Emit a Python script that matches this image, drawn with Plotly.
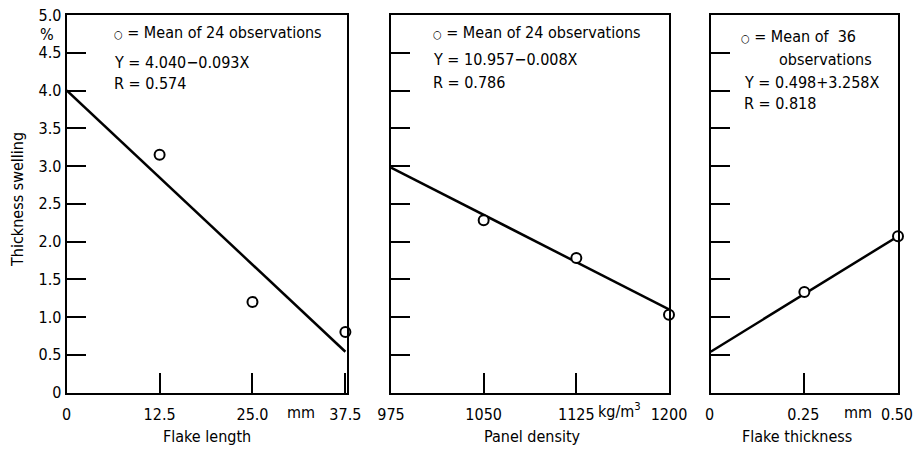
import plotly.graph_objects as go

# ---- data ----
len_x = [12.5, 25.0, 37.5]
len_y = [3.15, 1.20, 0.80]
len_line_x = [0, 37.5]
len_line_y = [4.0, 0.54]

dens_x = [1050, 1125, 1200]
dens_y = [2.28, 1.78, 1.03]
dens_line_x = [975, 1200]
dens_line_y = [2.98, 1.10]

thk_x = [0.25, 0.50]
thk_y = [1.33, 2.07]
thk_line_x = [0, 0.50]
thk_line_y = [0.54, 2.07]

y_ticks = [0, 0.5, 1.0, 1.5, 2.0, 2.5, 3.0, 3.5, 4.0, 4.5, 5.0]
y_tick_text = ["0", "0.5", "1.0", "1.5", "2.0", "2.5", "3.0", "3.5", "4.0", "4.5", "5.0"]
len_ticks = [0, 12.5, 25.0, 37.5]
len_tick_text = ["0", "12.5", "25.0", "37.5"]
dens_ticks = [975, 1050, 1125, 1200]
dens_tick_text = ["975", "1050", "1125", "1200"]
thk_ticks = [0, 0.25, 0.50]
thk_tick_text = ["0", "0.25", "0.50"]

W, H = 913, 450
FONT = "DejaVu Sans Condensed"

def px(x):
    return x / W

def py(y):
    return 1 - y / H

def fnt(size=16):
    return dict(family=FONT, size=size, color="black")

fig = go.Figure()

line_style = dict(color="black", width=2.5)
marker_style = dict(symbol="circle", size=10, color="white", line=dict(color="black", width=2))

panels = [
    ("x", "y", len_x, len_y, len_line_x, len_line_y),
    ("x2", "y2", dens_x, dens_y, dens_line_x, dens_line_y),
    ("x3", "y3", thk_x, thk_y, thk_line_x, thk_line_y),
]
for xa, ya, mx, my, lx, ly in panels:
    fig.add_trace(go.Scatter(x=lx, y=ly, mode="lines", line=line_style,
                             xaxis=xa, yaxis=ya, showlegend=False, hoverinfo="skip", cliponaxis=False))
    fig.add_trace(go.Scatter(x=mx, y=my, mode="markers", marker=marker_style,
                             xaxis=xa, yaxis=ya, showlegend=False, cliponaxis=False))

ydom = [py(392.5), py(15)]
common_x = dict(showline=True, linecolor="black", linewidth=2, mirror=True, ticks="inside",
                ticklen=20, tickwidth=1.5, tickcolor="black", showgrid=False, zeroline=False,
                tickfont=fnt(16), ticklabelstandoff=6, automargin=False,
                ticklabeloverflow="allow")
common_y = dict(showline=True, linecolor="black", linewidth=2, mirror=True, ticks="inside",
                ticklen=19, tickwidth=1.5, tickcolor="black", showgrid=False, zeroline=False,
                range=[0, 5], domain=ydom, tickvals=y_ticks, tickfont=fnt(16), automargin=False,
                ticklabeloverflow="allow")

fig.update_layout(
    width=W, height=H, margin=dict(l=0, r=0, t=0, b=0, autoexpand=False),
    paper_bgcolor="white", plot_bgcolor="white",
    font=fnt(16),
    xaxis=dict(common_x, domain=[px(66.7), px(346.5)], range=[0, 37.65],
               tickvals=len_ticks, ticktext=len_tick_text, anchor="y"),
    yaxis=dict(common_y, ticktext=y_tick_text, anchor="x"),
    xaxis2=dict(common_x, domain=[px(391), px(669)], range=[975, 1200],
                tickvals=dens_ticks, ticktext=dens_tick_text, anchor="y2"),
    yaxis2=dict(common_y, showticklabels=False, anchor="x2"),
    xaxis3=dict(common_x, domain=[px(710.7), px(898)], range=[0, 0.5],
                tickvals=thk_ticks, ticktext=thk_tick_text, anchor="y3", ticklabelshift=-1),
    yaxis3=dict(common_y, showticklabels=False, anchor="x3"),
)

def note(text, x, y, xanchor="left", size=16, angle=0):
    fig.add_annotation(text=text, x=px(x), y=py(y), xref="paper", yref="paper",
                       xanchor=xanchor, yanchor="middle", showarrow=False, textangle=angle,
                       font=fnt(size))

CIRC = "<span style='font-size:11px'>○</span>"
# panel 1 texts
note(CIRC + " = Mean of 24 observations", 112, 32)
note("Y = 4.040−0.093X", 112, 62)
note("R = 0.574", 112, 84)
# panel 2 texts
note(CIRC + " = Mean of 24 observations", 431, 32)
note("Y = 10.957−0.008X", 431, 60)
note("R = 0.786", 431, 82)
# panel 3 texts
note(CIRC + " = Mean of  36", 739, 37)
note("observations", 777, 60)
note("Y = 0.498+3.258X", 742, 82)
note("R = 0.818", 742, 103)

# units
note("%", 47, 34, xanchor="center")
note("mm", 301, 412, xanchor="center")
note("kg/m<sup>3</sup>", 596, 410, xanchor="left")
note("mm", 858, 412, xanchor="center")

# axis titles
note("Flake length", 207, 436, xanchor="center")
note("Panel density", 532, 436, xanchor="center")
note("Flake thickness", 797, 436, xanchor="center")
note("Thickness swelling", 17, 200, xanchor="center", angle=-90)

# remove the default page margin so the figure fills the window exactly
fig.write_html("out.html", config={"displayModeBar": False},
               post_script="document.body.style.margin='0px';document.body.style.overflow='hidden';")
